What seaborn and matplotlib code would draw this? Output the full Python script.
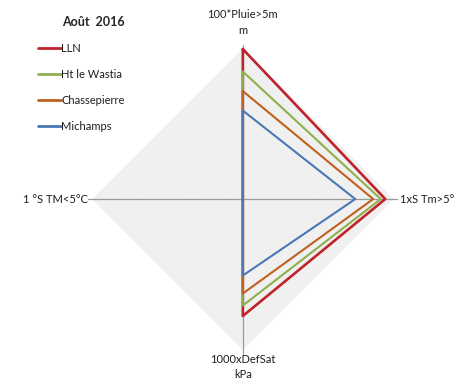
import numpy as np
import pandas as pd
import matplotlib
matplotlib.use("Agg")
import matplotlib.pyplot as plt
import seaborn as sns
from matplotlib.lines import Line2D

# Axes of the radar (clockwise from top)
axes_labels = ["100*Pluie>5m\nm", "1xS Tm>5°", "1000xDefSat\nkPa", "1 °S TM<5°C"]

# Values per station (same order as axes_labels)
stations = ["LLN", "Ht le Wastia", "Chassepierre", "Michamps"]
lln = [1.00, 0.95, 0.78, 0.0]
wastia = [0.85, 0.92, 0.71, 0.0]
chassepierre = [0.72, 0.87, 0.63, 0.0]
michamps = [0.59, 0.75, 0.51, 0.0]

colors = ["#C0232B", "#8EB04C", "#C0601E", "#4A78B4"]
rmax = 1.0
n_grid = 60

sns.set_theme(style="white")
plt.rcParams["font.family"] = ["Lato", "DejaVu Sans"]

angles = np.linspace(0, 2 * np.pi, len(axes_labels), endpoint=False)

rows = []
for name, vals in zip(stations, [lln, wastia, chassepierre, michamps]):
    closed = vals + vals[:1]
    ang = list(angles) + [angles[0]]
    for i, (v, a) in enumerate(zip(closed, ang)):
        rows.append({"station": name, "order": i,
                     "x": v * np.sin(a), "y": v * np.cos(a)})
df = pd.DataFrame(rows)

fig = plt.figure(figsize=(4.59, 3.85), dpi=100)
ax = fig.add_axes([0.186, 0.074, 0.686, 0.818])

# dense diamond gridlines on a faint grey background
ga = list(angles) + [angles[0]]
ax.fill([rmax * np.sin(a) for a in ga], [rmax * np.cos(a) for a in ga],
        color="#f7f7f7", zorder=0, lw=0)
for r in np.linspace(rmax / n_grid, rmax, n_grid):
    ax.plot([r * np.sin(a) for a in ga], [r * np.cos(a) for a in ga],
            color="#e3e3e3", lw=0.4, zorder=0)

# axis spokes
for a in angles:
    ax.plot([0, rmax * 1.03 * np.sin(a)], [0, rmax * 1.03 * np.cos(a)],
            color="#9a9a9a", lw=0.9, zorder=1)

sns.lineplot(data=df, x="x", y="y", hue="station", hue_order=stations,
             palette=colors, sort=False, estimator=None, units="station",
             lw=1.5, legend=False, ax=ax, zorder=3)
ax.lines[-4].set_linewidth(1.9)

txt = dict(fontsize=8, color="#1e1e1e")
ax.text(0, rmax * 1.09, axes_labels[0], ha="center", va="bottom",
        linespacing=1.5, **txt)
ax.text(rmax * 1.05, 0, axes_labels[1], ha="left", va="center", **txt)
ax.text(0, -rmax * 1.03, axes_labels[2], ha="center", va="top",
        linespacing=1.5, **txt)
ax.text(-rmax * 1.03, 0, axes_labels[3], ha="right", va="center", **txt)

ax.set_xlim(-1.05, 1.05)
ax.set_ylim(-1.05, 1.05)
ax.set_axis_off()

handles = [Line2D([0], [0], color=c, lw=2) for c in colors]
leg = fig.legend(handles, stations, loc="upper left",
                 bbox_to_anchor=(0.06, 0.985), frameon=False,
                 title="Août  2016", fontsize=8, handlelength=2.1,
                 handletextpad=0.05, labelspacing=1.35)
leg.get_title().set_fontweight("bold")
leg.get_title().set_fontsize(9)
for t in leg.get_texts():
    t.set_color("#1e1e1e")
leg._legend_box.align = "right"

fig.savefig("out.png", dpi=100)
